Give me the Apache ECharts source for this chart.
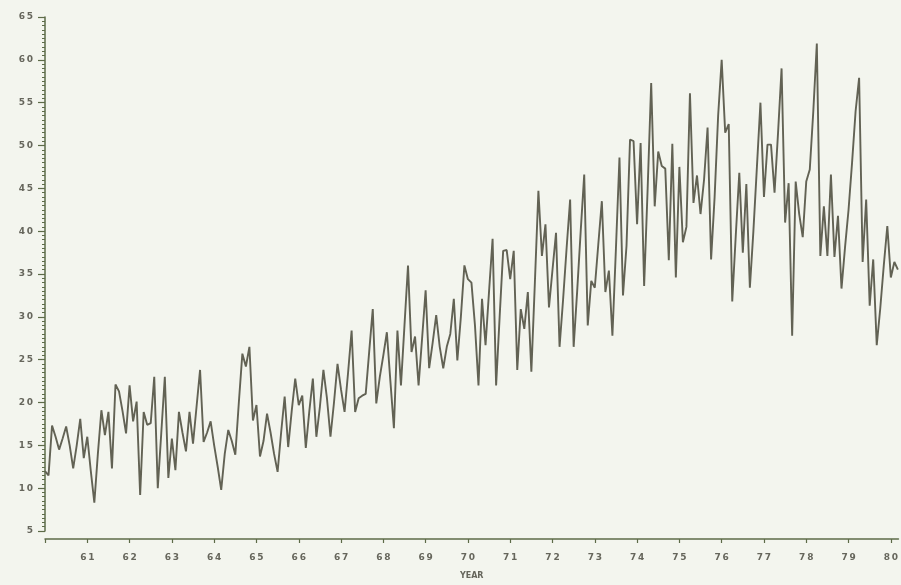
<!DOCTYPE html>
<html>
<head>
<meta charset="utf-8">
<script src="https://cdn.jsdelivr.net/npm/echarts@6/dist/echarts.min.js"></script>
<style>
html,body{margin:0;padding:0;background:#f3f5ee;}
#chart{width:901px;height:585px;}
</style>
</head>
<body>
<div id="chart"></div>
<script>
// Monthly series starting January 1960
const startYear = 1960;
const vals1960_64 = [
  12.0, 11.5, 17.3, 16.0, 14.5, 15.8, 17.2, 15.0, 12.3, 15.0, 18.1, 13.5,
  16.0, 12.0, 8.3, 14.0, 19.1, 16.2, 18.9, 12.3, 22.1, 21.3, 19.0, 16.4,
  22.0, 17.8, 20.1, 9.2, 18.9, 17.4, 17.6, 23.0, 10.0, 16.5, 23.0, 11.2,
  15.8, 12.1, 18.9, 16.5, 14.3, 18.9, 15.2, 19.5, 23.8, 15.4, 16.5, 17.8,
  15.0, 12.5, 9.8, 14.0, 16.8, 15.5, 13.9, 20.0, 25.7, 24.2, 26.5, 17.9
];
const vals1965_69 = [
  19.7, 13.7, 15.5, 18.7, 16.5, 14.0, 11.9, 16.5, 20.7, 14.8, 19.0, 22.8,
  19.7, 20.8, 14.7, 19.0, 22.8, 16.0, 19.5, 23.8, 20.5, 16.0, 20.0, 24.5,
  21.5, 18.9, 23.5, 28.4, 18.9, 20.5, 20.8, 21.0, 26.0, 30.9, 19.9, 23.0,
  25.5, 28.2, 22.5, 17.0, 28.4, 22.0, 29.0, 36.0, 25.9, 27.7, 22.0, 27.5,
  33.1, 24.0, 27.0, 30.2, 26.5, 24.0, 26.5, 28.0, 32.1, 24.9, 30.0, 36.0
];
const vals1970_74 = [
  34.4, 34.0, 29.0, 22.0, 32.1, 26.7, 33.0, 39.1, 22.0, 30.0, 37.7, 37.8,
  34.4, 37.7, 23.8, 30.9, 28.6, 32.9, 23.6, 34.0, 44.7, 37.1, 40.8, 31.1,
  35.5, 39.8, 26.5, 32.0, 38.0, 43.7, 26.5, 33.0, 40.0, 46.6, 29.0, 34.2,
  33.4, 38.5, 43.5, 32.9, 35.4, 27.8, 38.0, 48.6, 32.5, 38.3, 50.7, 50.5,
  40.8, 50.3, 33.6, 45.0, 57.3, 42.9, 49.3, 47.6, 47.3, 36.6, 50.2, 34.6
];
const vals1975_80 = [
  47.5, 38.7, 40.5, 56.1, 43.3, 46.5, 42.0, 46.0, 52.1, 36.7, 44.0, 53.5,
  60.0, 51.5, 52.5, 31.8, 39.5, 46.8, 37.5, 45.5, 33.4, 40.0, 47.5, 55.0,
  44.0, 50.1, 50.1, 44.5, 51.5, 59.0, 41.0, 45.6, 27.8, 45.8, 42.0, 39.3,
  45.8, 47.2, 54.0, 61.9, 37.1, 42.9, 37.1, 46.6, 37.0, 41.8, 33.3, 38.1,
  42.5, 48.0, 54.0, 57.9, 36.4, 43.7, 31.3, 36.7, 26.7, 31.0, 36.0, 40.6,
  34.6, 36.4, 35.5
];
const yTickValues = [5, 10, 15, 20, 25, 30, 35, 40, 45, 50, 55, 60, 65];
const yearTickLabels = ['61','62','63','64','65','66','67','68','69','70','71','72','73','74','75','76','77','78','79','80'];

const monthly = [].concat(vals1960_64, vals1965_69, vals1970_74, vals1975_80);
const seriesData = monthly.map((v, i) => [startYear + i / 12, v]);

const axisColor = '#5d6b48';
const textColor = '#66665c';
const spaced = s => String(s).split('').join('\u2009');

const chart = echarts.init(document.getElementById('chart'), null, {renderer: 'canvas'});
chart.setOption({
  backgroundColor: '#f3f5ee',
  animation: false,
  grid: {left: 45, right: 0, top: 17, bottom: 52, containLabel: false},
  xAxis: {
    type: 'value',
    min: 1960,
    max: 1980.18,
    interval: 1,
    offset: 8,
    name: 'YEAR',
    nameLocation: 'middle',
    nameGap: 33,
    nameTextStyle: {color: textColor, fontSize: 8, fontWeight: 'bold', fontFamily: 'DejaVu Sans'},
    axisLine: {show: true, lineStyle: {color: axisColor, width: 1.5}},
    axisTick: {show: true, inside: false, length: 4, lineStyle: {color: axisColor, width: 1.2}},
    axisLabel: {
      margin: 14,
      fontSize: 9,
      fontWeight: 'bold',
      fontFamily: 'DejaVu Sans',
      color: textColor,
      showMaxLabel: false,
      formatter: function (v) {
        if (Math.abs(v - Math.round(v)) > 1e-6) return '';
        const idx = Math.round(v) - 1961;
        return idx >= 0 && idx < yearTickLabels.length ? spaced(yearTickLabels[idx]) : '';
      }
    },
    splitLine: {show: false}
  },
  yAxis: {
    type: 'value',
    min: yTickValues[0],
    max: yTickValues[yTickValues.length - 1],
    interval: 5,
    axisLine: {show: true, lineStyle: {color: axisColor, width: 1.5}},
    axisTick: {show: true, inside: false, length: 7, lineStyle: {color: axisColor, width: 1.2}},
    minorTick: {show: true, splitNumber: 10, length: 3, lineStyle: {color: axisColor, width: 1}},
    axisLabel: {
      margin: 12,
      fontSize: 9,
      fontWeight: 'bold',
      fontFamily: 'DejaVu Sans',
      color: textColor,
      formatter: v => spaced(v)
    },
    splitLine: {show: false}
  },
  series: [{
    type: 'line',
    data: seriesData,
    symbol: 'none',
    smooth: false,
    lineStyle: {color: '#626254', width: 1.9},
    clip: true
  }]
});
</script>
</body>
</html>
